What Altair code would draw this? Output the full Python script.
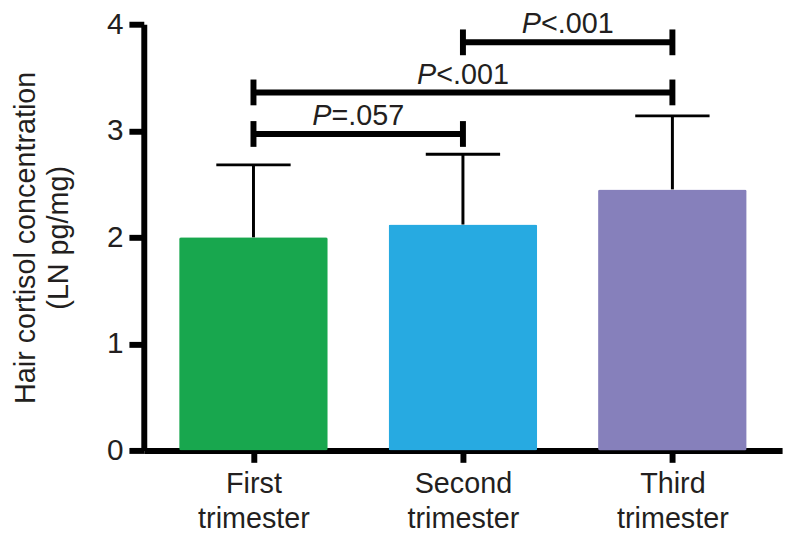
import altair as alt
import pandas as pd

# ---- data ----
categories = ["First trimester", "Second trimester", "Third trimester"]
means = [2.00, 2.12, 2.45]
upper = [2.68, 2.78, 3.14]
colors = ["#18a74e", "#27aae1", "#8680bb"]

br_from = [0, 0, 1]
br_to = [1, 2, 2]
br_y = [2.97, 3.36, 3.83]
br_label = ["=.057", "<.001", "<.001"]

FONT = "Liberation Sans"
INK = "#231f20"

bars_df = pd.DataFrame({
    "idx": list(range(len(categories))),
    "cat": categories,
    "mean": means,
    "upper": upper,
})
br_df = pd.DataFrame({
    "from": br_from,
    "to": br_to,
    "y": br_y,
    "mid": [(a + b) / 2 for a, b in zip(br_from, br_to)],
    "P": ["P"] * len(br_y),
    "rest": br_label,
})
ends_df = pd.DataFrame({
    "pos": br_from + br_to,
    "y": br_y + br_y,
})

xscale = alt.Scale(domain=[-0.5, 2.5], nice=False, zero=False)
yscale = alt.Scale(domain=[0, 4], nice=False)

cat_js = "[" + ",".join("'" + c + "'" for c in categories) + "]"

x_axis = alt.Axis(
    values=[0, 1, 2], labelExpr="split(" + cat_js + "[datum.value], ' ')",
    title=None, grid=False, domainColor="black", domainWidth=6,
    tickColor="black", tickWidth=6, tickSize=12,
    labelFont=FONT, labelFontSize=29, labelColor=INK, labelLineHeight=36,
    labelPadding=7, labelFlush=False, labelOverlap=False,
)
y_axis = alt.Axis(
    values=[0, 1, 2, 3, 4], format="d",
    title=["Hair cortisol concentration", "(LN pg/mg)"],
    titleFont=FONT, titleFontSize=29, titleFontWeight="normal", titleColor=INK,
    titleLineHeight=33, titleX=-104, titleY=215, titleBaseline="bottom",
    titleAlign="center", titleAngle=270,
    grid=False, domainColor="black", domainWidth=6,
    tickColor="black", tickWidth=6, tickSize=15,
    labelFont=FONT, labelFontSize=30, labelColor=INK, labelPadding=6,
)


def X(field):
    return alt.X(field, scale=xscale, axis=x_axis)


def Y(field):
    return alt.Y(field, scale=yscale, axis=y_axis)


bars = alt.Chart(bars_df).mark_bar(size=150, cornerRadius=2).encode(
    x=X("idx:Q"),
    y=Y("mean:Q"),
    color=alt.Color("cat:N", scale=alt.Scale(domain=categories, range=colors), legend=None),
)

err_line = alt.Chart(bars_df).mark_rule(strokeWidth=3, color="black").encode(
    x=X("idx:Q"), y=Y("mean:Q"), y2="upper:Q",
)
err_cap = alt.Chart(bars_df).mark_tick(orient="horizontal", size=75, thickness=3, color="black", opacity=1).encode(
    x=X("idx:Q"), y=Y("upper:Q"),
)

br_line = alt.Chart(br_df).mark_rule(strokeWidth=6, color="black").encode(
    x=X("from:Q"), x2="to:Q", y=Y("y:Q"),
)
br_ends = alt.Chart(ends_df).mark_tick(orient="vertical", size=26, thickness=6, color="black", opacity=1).encode(
    x=X("pos:Q"), y=Y("y:Q"),
)

p_text = alt.Chart(br_df).mark_text(
    align="right", baseline="alphabetic", dx=-27, dy=-9,
    font=FONT, fontSize=29, fontStyle="italic", color=INK,
).encode(x=X("mid:Q"), y=Y("y:Q"), text="P:N")
rest_text = alt.Chart(br_df).mark_text(
    align="left", baseline="alphabetic", dx=-27, dy=-9,
    font=FONT, fontSize=29, color=INK,
).encode(x=X("mid:Q"), y=Y("y:Q"), text="rest:N")

chart = alt.layer(bars, err_line, err_cap, br_line, br_ends, p_text, rest_text).properties(
    width=644, height=430,
    background="white",
    autosize=alt.AutoSizeParams(type="none"),
    padding={"left": 137, "top": 14, "right": 10, "bottom": 88},
).configure_view(stroke=None)

chart.save("out.html", embed_options={"renderer": "svg", "actions": False})
